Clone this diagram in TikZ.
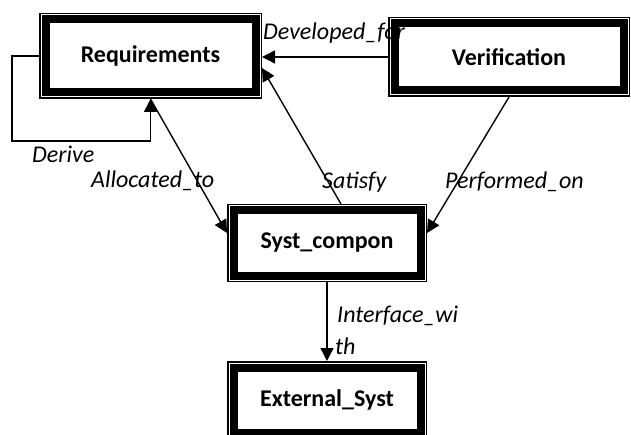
\documentclass[tikz,border=0pt]{standalone}
\usepackage{fontspec}
\setmainfont{Carlito}
\usetikzlibrary{arrows.meta}
\tikzset{
  ent/.style={draw, line width=8pt, fill=white, rectangle, outer sep=6.5pt,
    font=\fontsize{24}{28}\selectfont\bfseries, inner sep=0pt},
  conn/.style={line width=1.4pt, -{Triangle[length=13pt,width=13pt]}},
  lbl/.style={inner sep=0pt, anchor=base west, font=\fontsize{24}{28}\selectfont\itshape},
  rim/.style={line width=1.5pt}
}
\begin{document}
\begin{tikzpicture}[x=1pt,y=1pt]
\useasboundingbox (0,0) rectangle (631,434);
\clip (0,0) rectangle (631,434);
% entities
\node[ent, minimum width=210pt, minimum height=73pt] (req) at (150.5,378) {Requirements};
\node[ent, minimum width=229pt, minimum height=67pt] (ver) at (509,377) {Verification};
\node[ent, minimum width=187pt, minimum height=65pt] (syst) at (327,191) {Syst\_compon};
\node[ent, minimum width=187pt, minimum height=65pt] (ext) at (327,34) {External\_Syst};
\foreach \n in {req,ver,syst,ext}
  \draw[rim] ([shift={(0.75pt,-0.75pt)}]\n.north west) rectangle ([shift={(-0.75pt,0.75pt)}]\n.south east);
% connectors
\coordinate (dloop) at (12,293);
\draw[conn] (req.west) -| (dloop) -| (req.south);
\draw[conn] (ver.west) -- (ver.west -| req.east);
\draw[conn] ([xshift=14pt]syst.north) -- ([yshift=-12pt]req.east);
\draw[conn] (req.south) -- ([yshift=10pt]syst.west);
\draw[conn] (ver.south) -- ([yshift=10pt]syst.east);
\draw[conn] (syst.south) -- (ext.north);
% labels
\node[lbl] (l1) at (263,394) {Developed\_for};
\node[lbl] (l2) at (32,271) {Derive};
\node[lbl] (l3) at (91,246) {Allocated\_to};
\node[lbl] (l4) at (322,245) {Satisfy};
\node[lbl] (l5) at (445,245) {Performed\_on};
\node[lbl] (l6) at (337,112) {Interface\_wi};
\node[lbl] (l7) at (335,80) {th};
\end{tikzpicture}
\end{document}
